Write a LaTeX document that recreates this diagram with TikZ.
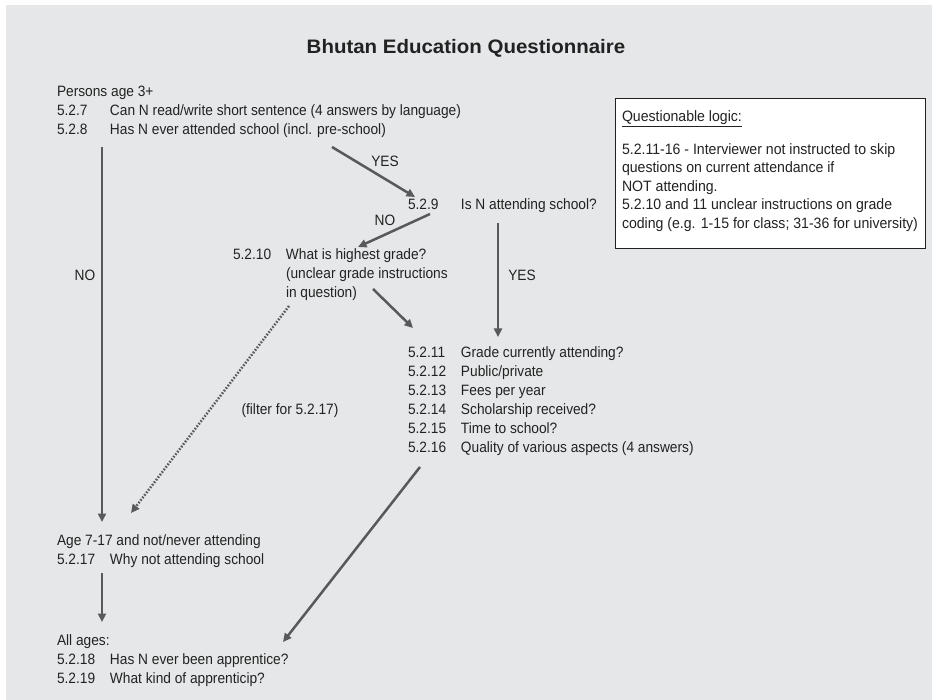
\documentclass[tikz,border=0pt]{standalone}
\usepackage{fontspec}
\setmainfont[FakeStretch=0.915]{Liberation Sans}
\newfontfamily\notefont[FakeStretch=0.94]{Liberation Sans}
\newfontfamily\headfont[FakeStretch=1.05]{Liberation Sans}
\usetikzlibrary{arrows.meta}
\definecolor{bggrey}{HTML}{E6E7E8}
\definecolor{ink}{HTML}{222222}
\definecolor{flow}{HTML}{58595B}
\newcommand\qn[1]{\makebox[53pt][l]{#1}}
\newenvironment{qblock}{\begin{tabular}[t]{@{}l@{}}}{\end{tabular}}
\begin{document}
\begin{tikzpicture}[x=1pt,y=-1pt,
  every node/.style={inner sep=0pt, outer sep=0pt, text=ink,
    font=\fontsize{15}{19}\selectfont},
  txt/.style={anchor=base west},
  lbl/.style={anchor=center},
  flowarrow/.style={draw=flow, line width=2.5pt,
    -{Triangle[length=8.5pt,width=8pt]}},
  filterarrow/.style={flowarrow, dash pattern=on 1.6pt off 1.6pt},
  notebox/.style={draw=ink, fill=white, line width=0.9pt}]
\useasboundingbox (0,0) rectangle (932,700);
\fill[white] (0,0) rectangle (932,700);
\fill[bggrey] (6,5) rectangle (932,700);

% title
\node[lbl, font=\headfont\bfseries\fontsize{19.5}{23}\selectfont] (title) at (466,48) {Bhutan Education Questionnaire};

% question blocks
\node[txt] (q8) at (57,97) {\begin{qblock}
Persons age 3+\\
\qn{5.2.7}Can N read/write short sentence (4 answers by language)\\
\qn{5.2.8}Has N ever attended school (incl. pre-school)
\end{qblock}};

\node[txt] (q9) at (408,210) {\qn{5.2.9}Is N attending school?};

\node[txt] (q10) at (233,260) {\begin{qblock}
\qn{5.2.10}What is highest grade?\\
\qn{}(unclear grade instructions\\
\qn{}in question)
\end{qblock}};

\node[txt] (q11) at (408,358) {\begin{qblock}
\qn{5.2.11}Grade currently attending?\\
\qn{5.2.12}Public/private\\
\qn{5.2.13}Fees per year\\
\qn{5.2.14}Scholarship received?\\
\qn{5.2.15}Time to school?\\
\qn{5.2.16}Quality of various aspects (4 answers)
\end{qblock}};

\node[txt] (q17) at (57,545) {\begin{qblock}
Age 7-17 and not/never attending\\
\qn{5.2.17}Why not attending school
\end{qblock}};

\node[txt] (q18) at (57,645) {\begin{qblock}
All ages:\\
\qn{5.2.18}Has N ever been apprentice?\\
\qn{5.2.19}What kind of apprenticip?
\end{qblock}};

% note box
\draw[notebox] (615,98) rectangle (925,248);
\node[txt, font=\notefont\fontsize{15}{19}\selectfont] (notehead) at (622,122) {\underline{Questionable logic:}};
\node[txt, font=\notefont\fontsize{15}{19}\selectfont] (notebody) at (622,154.5) {\begin{tabular}[t]{@{}l@{}}
5.2.11-16 - Interviewer not instructed to skip\\[-0.5pt]
questions on current attendance if\\[-0.5pt]
NOT attending.\\[-0.5pt]
5.2.10 and 11 unclear instructions on grade\\[-0.5pt]
coding (e.g. 1-15 for class; 31-36 for university)
\end{tabular}};

% branch labels
\node[lbl] (yes1) at (385,161) {YES};
\node[lbl] (no1) at (385,220) {NO};
\node[lbl] (no0) at (85,275) {NO};
\node[lbl] (yes2) at (522,275) {YES};
\node[lbl] (filt) at (290,411) {(filter for 5.2.17)};

% connector ends
\coordinate (a1s) at (102,147);  \coordinate (a1e) at (102,522);
\coordinate (a2s) at (332,147);  \coordinate (a2e) at (415,197);
\coordinate (a3s) at (430,214);  \coordinate (a3e) at (358,247);
\coordinate (a4s) at (498,223);  \coordinate (a4e) at (498,337);
\coordinate (a5s) at (373,289);  \coordinate (a5e) at (413,328);
\coordinate (a6s) at (289,306);  \coordinate (a6e) at (131,513);
\coordinate (a7s) at (102,573);  \coordinate (a7e) at (102,622);
\coordinate (a8s) at (420,467);  \coordinate (a8e) at (283,642);

\draw[flowarrow] (a1s) -- (a1e);
\draw[flowarrow] (a2s) -- (a2e);
\draw[flowarrow] (a3s) -- (a3e);
\draw[flowarrow] (a4s) -- (a4e);
\draw[flowarrow] (a5s) -- (a5e);
\draw[filterarrow] (a6s) -- (a6e);
\draw[flowarrow] (a7s) -- (a7e);
\draw[flowarrow] (a8s) -- (a8e);
\end{tikzpicture}
\end{document}
